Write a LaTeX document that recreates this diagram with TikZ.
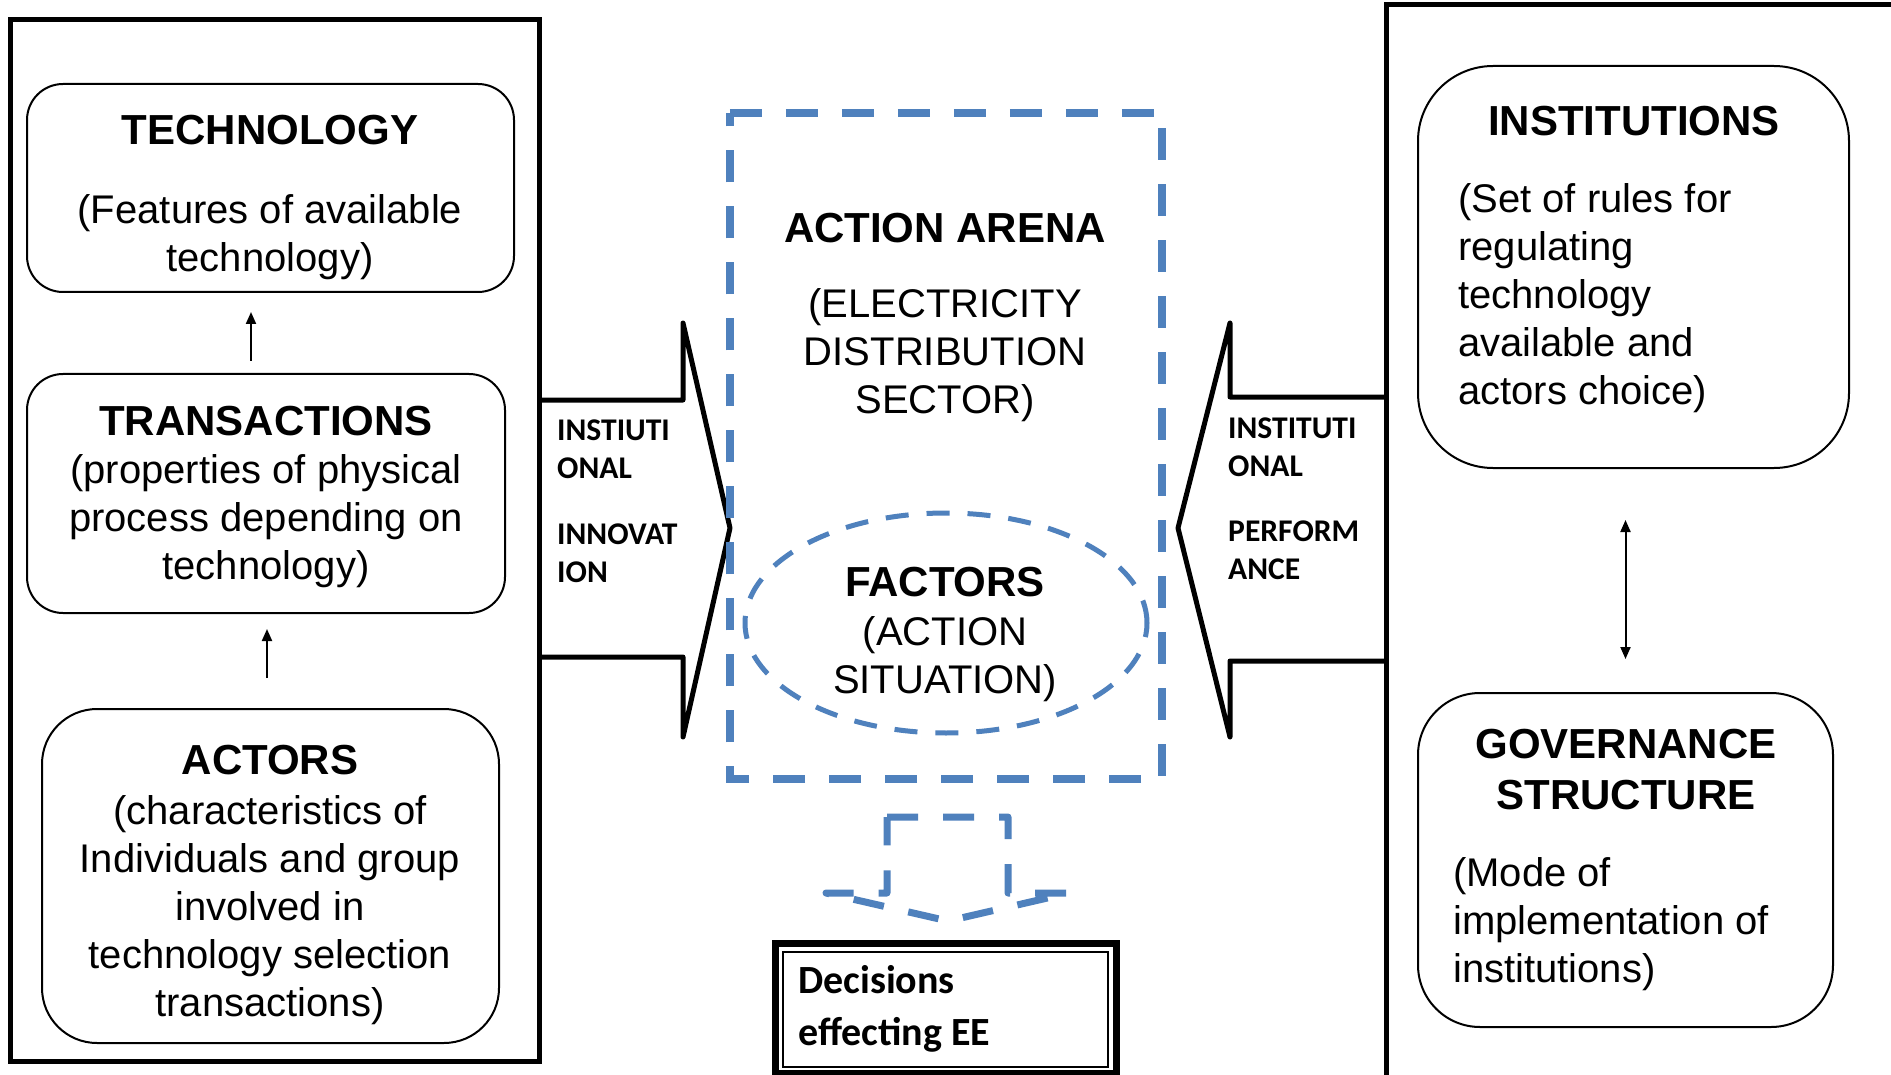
\documentclass[tikz,border=0pt]{standalone}
\usepackage{fontspec}
\setmainfont{Liberation Sans}
\newfontfamily\carlito{Carlito}
\usetikzlibrary{shapes.geometric, arrows.meta}
\definecolor{dblue}{HTML}{4F81BD}
\begin{document}
\begin{tikzpicture}[x=1pt,y=-1pt,
  outerbox/.style={draw, line width=5pt, inner sep=0pt},
  rbox/.style={draw, line width=2pt, inner sep=0pt},
  ttl/.style={font=\fontsize{42}{51}\selectfont\bfseries, inner sep=0pt, align=center},
  bodytxt/.style={font=\fontsize{40}{48}\selectfont, inner sep=0pt, align=center},
  bodyleft/.style={font=\fontsize{40}{48}\selectfont, inner sep=0pt, align=left, anchor=west},
  lbl/.style={font=\carlito\fontsize{31.6}{38}\selectfont\bfseries, inner sep=0pt, align=left, anchor=west},
  blockarrow/.style={draw, line width=5pt, line join=round},
  smallarrow/.style={draw, line width=2pt, -{Triangle[length=12pt,width=10pt]}},
  dblarrow/.style={draw, line width=2pt, {Triangle[length=12pt,width=10pt]}-{Triangle[length=12pt,width=10pt]}},
  arenabox/.style={inner sep=0pt},
  arenaline/.style={draw=dblue, line width=8pt, dash pattern=on 32pt off 24pt},
  factell/.style={ellipse, draw=dblue, line width=5pt, dash pattern=on 23pt off 18pt, inner sep=0pt},
  dasharrow/.style={draw=dblue, line width=7pt, line join=round, dash pattern=on 31pt off 25pt},
]
\clip (0,0) rectangle (1891,1075);
\fill[white] (0,0) rectangle (1891,1075);

% outer frames
\node[outerbox, minimum width=529pt, minimum height=1041pt] (leftbox) at (274.5,540.5) {};
\node[outerbox, minimum width=600pt, minimum height=1195pt] (rightbox) at (1686,602.5) {};

% left column boxes
\node[rbox, rounded corners=36pt, minimum width=487pt, minimum height=208pt] (tech) at (270.5,188) {};
\node[ttl] (techT) at (270,130) {TECHNOLOGY};
\node[bodytxt] (techB) at (270,237) {(Features of available\\technology)};

\node[rbox, rounded corners=36pt, minimum width=478pt, minimum height=239pt] (trans) at (266,493.5) {};
\node[ttl] (transT) at (266,421) {TRANSACTIONS};
\node[bodytxt] (transB) at (266,521) {(properties of physical\\process depending on\\technology)};

\node[rbox, rounded corners=55pt, minimum width=457pt, minimum height=334pt] (actors) at (270.5,876) {};
\node[ttl] (actorsT) at (270,760) {ACTORS};
\node[bodytxt] (actorsB) at (270,910) {(characteristics of\\Individuals and group\\involved in\\technology selection\\transactions)};

\draw[smallarrow, shorten <=12pt, shorten >=19pt] ([xshift=-15pt]trans.north) -- ([xshift=-19.5pt]tech.south);
\draw[smallarrow, shorten <=30pt, shorten >=15pt] ([xshift=-3.5pt]actors.north) -- ([xshift=1pt]trans.south);

% right column boxes
\node[rbox, rounded corners=75pt, minimum width=431pt, minimum height=402pt] (inst) at (1633.5,267) {};
\node[ttl] (instT) at (1634,121) {INSTITUTIONS};
\node[bodyleft] (instB) at (1458,298) {(Set of rules for\\regulating\\technology\\available and\\actors choice)};

\node[rbox, rounded corners=62pt, minimum width=415pt, minimum height=334pt] (gov) at (1625.5,860) {};
\node[ttl] (govT) at (1626,770) {GOVERNANCE\\STRUCTURE};
\node[bodyleft] (govB) at (1453,924) {(Mode of\\implementation of\\institutions)};

\draw[dblarrow, shorten <=51pt, shorten >=33pt] ([xshift=-8pt]inst.south) -- (gov.north);

% block arrows
\draw[blockarrow] (539,400) -- (683,400) -- (683,323) -- (730,528) -- (683,737) -- (683,657) -- (539,657);
\draw[blockarrow] (1386,397) -- (1230,397) -- (1230,323) -- (1178,528) -- (1230,737) -- (1230,661) -- (1386,661);
\node[lbl] (innovA) at (557,449.5) {INSTIUTI\\ONAL};
\node[lbl] (innovB) at (557,553.5) {INNOVAT\\ION};
\node[lbl] (perfA) at (1228,447.5) {INSTITUTI\\ONAL};
\node[lbl] (perfB) at (1228,550) {PERFORM\\ANCE};

% action arena
\node[arenabox, minimum width=432pt, minimum height=666pt] (arena) at (946,446) {};
\draw[arenaline] (arena.north west) -- (arena.north east) -- (arena.south east) -- (arena.south west) -- cycle;
\node[ttl] (arenaT) at (945,228) {ACTION ARENA};
\node[bodytxt] (arenaB) at (945,355) {(ELECTRICITY\\DISTRIBUTION\\SECTOR)};

\node[factell, minimum width=402pt, minimum height=220pt] (factors) at (946,623) {};
\node[ttl] (factorsT) at (945,582) {FACTORS};
\node[bodytxt] (factorsB) at (945,659) {(ACTION\\SITUATION)};

% down arrow
\draw[dasharrow] (887,817) -- (1008,817) -- (1008,893) -- (1069,893) -- (948,921) -- (826,893) -- (887,893) -- cycle;

% decisions box
\node[draw, line width=7pt, inner sep=0pt, minimum width=341pt, minimum height=130pt] (dec) at (946,1008) {};
\draw[line width=2pt] (783,952) rectangle (1108,1067);
\node[font=\carlito\fontsize{40}{52}\selectfont\bfseries, inner sep=0pt, align=left, anchor=west] (decT) at (798,1009) {Decisions\\effecting EE};
\end{tikzpicture}
\end{document}
